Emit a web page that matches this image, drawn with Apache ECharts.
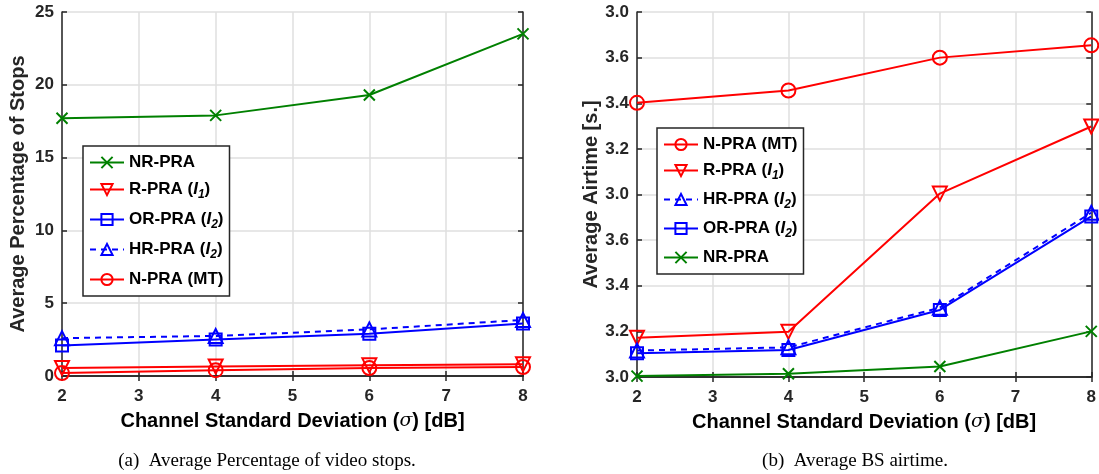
<!DOCTYPE html>
<html><head><meta charset="utf-8">
<script src="https://cdn.jsdelivr.net/npm/echarts@6/dist/echarts.min.js"></script>
<style>html,body{margin:0;padding:0;background:#fff}#c{width:1099px;height:474px}</style>
</head><body><div id="c"></div>
<script>
// ---- data ----
const sigma = [2, 4, 6, 8];
// (a) Average Percentage of Stops
const stopsNR = [17.7, 17.9, 19.3, 23.5];
const stopsR  = [0.55, 0.65, 0.73, 0.8];
const stopsOR = [2.1, 2.5, 2.9, 3.6];
const stopsHR = [2.6, 2.75, 3.2, 3.85];
const stopsN  = [0.2, 0.4, 0.55, 0.62];
// (b) Average BS airtime, given as positions on the (broken) tick scale: tick index 0..8
const airN  = [6.01, 6.28, 7.0, 7.27];
const airR  = [0.86, 0.99, 4.02, 5.49];
const airHR = [0.58, 0.65, 1.52, 3.6];
const airOR = [0.52, 0.59, 1.47, 3.52];
const airNR = [0.02, 0.07, 0.23, 1.0];
const airTickLabels = ['3.0','3.2','3.4','3.6','3.0','3.2','3.4','3.6','3.0'];
const stopsTicks = [0, 5, 10, 15, 20, 25];

const GREEN = '#008000', RED = '#ff0000', BLUE = '#0000ff';
const FONT = 'Liberation Sans';
const CROSS = 'path://M0,0L10,10M0,10L10,0';

function ser(name, data, color, symbol, opts, gi) {
  return Object.assign({
    name, type: 'line', xAxisIndex: gi * 2, yAxisIndex: gi * 2,
    data: sigma.map((x, i) => [x, data[i]]),
    symbol, symbolSize: 14, showSymbol: true,
    lineStyle: { color, width: 2 },
    itemStyle: { color: 'rgba(0,0,0,0)', borderColor: color, borderWidth: 2 },
    emphasis: { disabled: true }, animation: false, z: 3
  }, opts || {});
}

const names = {
  'NR-PRA': '{b|NR-PRA}',
  'R-PRA': '{b|R-PRA (}{i|I}{s|1}{b|)}',
  'OR-PRA': '{b|OR-PRA (}{i|I}{s|2}{b|)}',
  'HR-PRA': '{b|HR-PRA (}{i|I}{s|2}{b|)}',
  'N-PRA': '{b|N-PRA (MT)}'
};
const rich = {
  b: { fontFamily: FONT, fontWeight: 'bold', fontSize: 17, color: '#000' },
  i: { fontFamily: FONT, fontWeight: 'bold', fontStyle: 'italic', fontSize: 17, color: '#000' },
  s: { fontFamily: FONT, fontWeight: 'bold', fontStyle: 'italic', fontSize: 12, color: '#000', padding: [11, 0, 0, 0] }
};

const grids = [
  { left: 62, top: 12, width: 461, height: 364 },
  { left: 637, top: 12, width: 461, height: 365 }
];

function xAxes(gi) {
  return [
    { gridIndex: gi, type: 'value', min: 2, max: 8, interval: 1,
      axisLine: { show: true, lineStyle: { color: '#262626', width: 1.5 } },
      axisTick: { inside: true, length: 5, lineStyle: { color: '#262626', width: 1.5 } },
      axisLabel: { color: '#262626', fontFamily: FONT, fontWeight: 'bold', fontSize: 17, margin: 12 },
      splitLine: { show: true, lineStyle: { color: '#dfdfdf', width: 1.5 } },
      name: '{b|Channel Standard Deviation (}{s|σ}{b|) [dB]}', nameLocation: 'middle', nameGap: 35,
      nameTextStyle: { rich: {
        b: { fontFamily: FONT, fontWeight: 'bold', fontSize: 20, color: '#000' },
        s: { fontFamily: 'DejaVu Serif', fontStyle: 'italic', fontSize: 19, color: '#000' } } } },
    { gridIndex: gi, type: 'value', min: 2, max: 8, interval: 1, position: 'top',
      axisLine: { show: true, lineStyle: { color: '#262626', width: 1.5 } },
      axisTick: { inside: true, length: 5, lineStyle: { color: '#262626', width: 1.5 } },
      axisLabel: { show: false }, splitLine: { show: false } }
  ];
}

const yName = ['Average Percentage of Stops', 'Average Airtime [s.]'];
function yAxes(gi) {
  const isB = gi === 1;
  const base = {
    gridIndex: gi, type: 'value',
    min: 0, max: isB ? 8 : 25, interval: isB ? 1 : 5
  };
  return [
    Object.assign({}, base, {
      axisLine: { show: true, lineStyle: { color: '#262626', width: 1.5 } },
      axisTick: { inside: true, length: 5, lineStyle: { color: '#262626', width: 1.5 } },
      axisLabel: { color: '#262626', fontFamily: FONT, fontWeight: 'bold', fontSize: 17, margin: 8,
        formatter: isB ? (v => airTickLabels[Math.round(v)]) : (v => stopsTicks.includes(v) ? String(v) : '') },
      splitLine: { show: true, lineStyle: { color: '#dfdfdf', width: 1.5 } },
      name: yName[gi], nameLocation: 'middle', nameGap: isB ? 36 : 34,
      nameTextStyle: { fontFamily: FONT, fontWeight: 'bold', fontSize: 20, color: '#262626' }
    }),
    Object.assign({}, base, { position: 'right',
      axisLine: { show: true, lineStyle: { color: '#262626', width: 1.5 } },
      axisTick: { inside: true, length: 5, lineStyle: { color: '#262626', width: 1.5 } },
      axisLabel: { show: false }, splitLine: { show: false } })
  ];
}

const series = [
  ser('NR-PRA', stopsNR, GREEN, CROSS, { symbolSize: 11 }, 0),
  ser('R-PRA', stopsR, RED, 'triangle', { symbolRotate: 180 }, 0),
  ser('OR-PRA', stopsOR, BLUE, 'rect', { symbolSize: 12 }, 0),
  ser('HR-PRA', stopsHR, BLUE, 'triangle', { lineStyle: { color: BLUE, width: 2, type: [6, 5] } }, 0),
  ser('N-PRA', stopsN, RED, 'circle', {}, 0),
  ser('N-PRA', airN, RED, 'circle', {}, 1),
  ser('R-PRA', airR, RED, 'triangle', { symbolRotate: 180 }, 1),
  ser('HR-PRA', airHR, BLUE, 'triangle', { lineStyle: { color: BLUE, width: 2, type: [6, 5] } }, 1),
  ser('OR-PRA', airOR, BLUE, 'rect', { symbolSize: 12 }, 1),
  ser('NR-PRA', airNR, GREEN, CROSS, { symbolSize: 11 }, 1)
];

function legend(left, top, order, gap) {
  return {
    left, top, orient: 'vertical', data: order, itemWidth: 34, itemHeight: 14, itemGap: gap,
    padding: [8, 6, 8, 6], borderColor: '#262626', borderWidth: 1.5, backgroundColor: '#fff',
    selectedMode: false, formatter: n => names[n], textStyle: { rich }
  };
}

const chart = echarts.init(document.getElementById('c'), null, { renderer: 'canvas' });
chart.setOption({
  animation: false,
  grid: grids,
  xAxis: [...xAxes(0), ...xAxes(1)],
  yAxis: [...yAxes(0), ...yAxes(1)],
  series,
  legend: [
    legend(83, 146, ['NR-PRA', 'R-PRA', 'OR-PRA', 'HR-PRA', 'N-PRA'], 10),
    legend(657, 128, ['N-PRA', 'R-PRA', 'HR-PRA', 'OR-PRA', 'NR-PRA'], 9)
  ],
  title: [
    { text: '(a)  Average Percentage of video stops.', left: 262, top: 447, textAlign: 'center',
      textStyle: { fontFamily: 'Liberation Serif', fontWeight: 'normal', fontSize: 19, color: '#000' } },
    { text: '(b)  Average BS airtime.', left: 850, top: 447, textAlign: 'center',
      textStyle: { fontFamily: 'Liberation Serif', fontWeight: 'normal', fontSize: 19, color: '#000' } }
  ]
});
</script></body></html>
